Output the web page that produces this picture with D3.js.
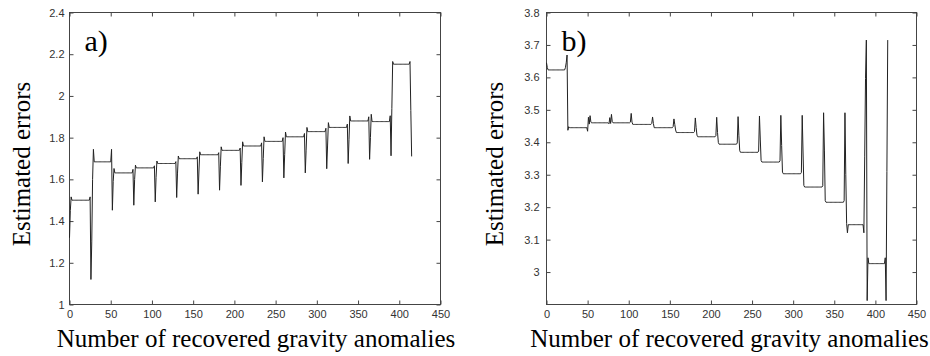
<!DOCTYPE html>
<html>
<head>
<meta charset="utf-8">
<script src="https://cdn.jsdelivr.net/npm/d3@7"></script>
<style>
  html, body { margin: 0; padding: 0; background: #fff; }
  svg { display: block; }
  .tick text { font-family: "Liberation Sans", Arial, sans-serif; font-size: 11px; fill: #333; }
  .title { font-family: "Liberation Serif", "Times New Roman", serif; fill: #000; }
</style>
</head>
<body>
<svg id="chart" width="930" height="356"></svg>
<script>
// ---- shared axis settings ----
const xTicks = [0, 50, 100, 150, 200, 250, 300, 350, 400, 450];
const xLabel = "Number of recovered gravity anomalies";
const yLabel = "Estimated errors";
const blockLen = 26;   // anomalies per recovered block

// ---- panel a) ----
const yTicksA = [1, 1.2, 1.4, 1.6, 1.8, 2, 2.2, 2.4];
const levelsA = [1.500, 1.684, 1.631, 1.655, 1.676, 1.699, 1.718, 1.739,
                 1.760, 1.782, 1.804, 1.829, 1.849, 1.880, 1.877, 2.152];
const headsA = [
  [1.32, 1.45, 1.516],
  [1.12, 1.30, 1.60, 1.744],
  [1.452, 1.59, 1.652],
  [1.476, 1.60, 1.668],
  [1.492, 1.61, 1.688],
  [1.513, 1.63, 1.712],
  [1.529, 1.64, 1.732],
  [1.548, 1.66, 1.756],
  [1.571, 1.68, 1.780],
  [1.588, 1.70, 1.804],
  [1.607, 1.72, 1.827],
  [1.631, 1.74, 1.849],
  [1.651, 1.76, 1.872],
  [1.676, 1.79, 1.904],
  [1.696, 1.80, 1.912],
  [1.713, 1.94, 2.165]
];
const tailsA = [
  [1.516], [1.744], [1.648], [1.665], [1.685], [1.708], [1.728], [1.750],
  [1.775], [1.800], [1.820], [1.845], [1.865], [1.900], [1.905],
  [2.165, 1.93, 1.71]
];

// ---- panel b) ----
const yTicksB = [3, 3.1, 3.2, 3.3, 3.4, 3.5, 3.6, 3.7, 3.8];
const levelsB = [3.623, 3.445, 3.460, 3.460, 3.455, 3.445, 3.430, 3.417,
                 3.394, 3.369, 3.339, 3.303, 3.262, 3.215, 3.146, 3.026];
const headsB = [
  [3.645, 3.630],
  [3.437, 3.448],
  [3.456, 3.482, 3.462],
  [3.458, 3.486, 3.463],
  [3.462],
  [3.458],
  [3.455, 3.438],
  [3.445, 3.422],
  [3.430, 3.399],
  [3.420, 3.374],
  [3.410, 3.344],
  [3.390, 3.308],
  [3.370, 3.267],
  [3.376, 3.220],
  [3.300, 3.150, 3.121],
  [2.912, 3.044]
];
const tailsB = [
  [3.630, 3.645, 3.669],
  [3.434, 3.477],
  [3.457, 3.476],
  [3.462, 3.489],
  [3.458, 3.478],
  [3.448, 3.472],
  [3.433, 3.475],
  [3.420, 3.477],
  [3.398, 3.479],
  [3.373, 3.481],
  [3.343, 3.483],
  [3.307, 3.483],
  [3.266, 3.491],
  [3.220, 3.491],
  [3.121, 3.355, 3.597, 3.715],
  [3.044, 2.912, 3.310, 3.715]
];

// Each block: edge values at the start, the flat level, edge values at the end.
function buildSeries(levels, heads, tails) {
  const out = [];
  levels.forEach((lv, k) => {
    const flat = blockLen - heads[k].length - tails[k].length;
    const vals = heads[k].concat(new Array(flat).fill(lv), tails[k]);
    vals.forEach(v => out.push({ x: out.length, v }));
  });
  return out;
}

const svg = d3.select("#chart");

function drawPanel(cfg) {
  const x = d3.scaleLinear().domain([0, 450]).range([cfg.left, cfg.right]);
  const y = d3.scaleLinear().domain(cfg.yDomain).range([cfg.bottom, cfg.top]);
  const g = svg.append("g");
  const tl = 4;

  // inward ticks on all four sides
  const bottomAxis = d3.axisBottom(x).tickValues(xTicks).tickSizeInner(-tl).tickSizeOuter(0).tickPadding(6);
  const topAxis = d3.axisTop(x).tickValues(xTicks).tickSizeInner(-tl).tickSizeOuter(0).tickFormat("");
  const leftAxis = d3.axisLeft(y).tickValues(cfg.yTicks).tickSizeInner(-tl).tickSizeOuter(0)
    .tickPadding(cfg.yPad).tickFormat(d => String(+d.toFixed(1)));
  const rightAxis = d3.axisRight(y).tickValues(cfg.yTicks).tickSizeInner(-tl).tickSizeOuter(0).tickFormat("");

  [[bottomAxis, `translate(0,${cfg.bottom})`], [topAxis, `translate(0,${cfg.top})`],
   [leftAxis, `translate(${cfg.left},0)`], [rightAxis, `translate(${cfg.right},0)`]]
    .forEach(([ax, tr]) => {
      const a = g.append("g").attr("transform", tr).call(ax);
      a.select(".domain").remove();
      a.selectAll(".tick line").attr("stroke", "#444");
    });

  // plot box
  g.append("rect")
    .attr("x", cfg.left).attr("y", cfg.top)
    .attr("width", cfg.right - cfg.left).attr("height", cfg.bottom - cfg.top)
    .attr("fill", "none").attr("stroke", "#444").attr("stroke-width", 1);

  // error curve
  const line = d3.line().x(d => x(d.x)).y(d => y(d.v));
  g.append("path")
    .datum(cfg.series)
    .attr("fill", "none")
    .attr("stroke", "#222")
    .attr("stroke-width", 1)
    .attr("d", line);

  // panel letter
  g.append("text").attr("class", "title")
    .attr("x", cfg.left + 15).attr("y", 51)
    .style("font-size", "30px").text(cfg.letter);

  // axis titles
  g.append("text").attr("class", "title")
    .attr("x", (cfg.left + cfg.right) / 2 + cfg.xLabelShift).attr("y", 347)
    .attr("text-anchor", "middle").style("font-size", "25px").text(xLabel);
  g.append("text").attr("class", "title")
    .attr("transform", `translate(${cfg.yLabelX},${164}) rotate(-90)`)
    .attr("text-anchor", "middle").style("font-size", "25px").text(yLabel);
}

drawPanel({
  left: 69.5, right: 440.5, top: 12.5, bottom: 304.5,
  yDomain: [1, 2.4], yTicks: yTicksA, yPad: 5,
  series: buildSeries(levelsA, headsA, tailsA),
  letter: "a)", xLabelShift: 1, yLabelX: 30
});

drawPanel({
  left: 546.5, right: 916.5, top: 12.5, bottom: 304.5,
  yDomain: [2.9, 3.8], yTicks: yTicksB, yPad: 7,
  series: buildSeries(levelsB, headsB, tailsB),
  letter: "b)", xLabelShift: -2, yLabelX: 502.5
});
</script>
</body>
</html>
